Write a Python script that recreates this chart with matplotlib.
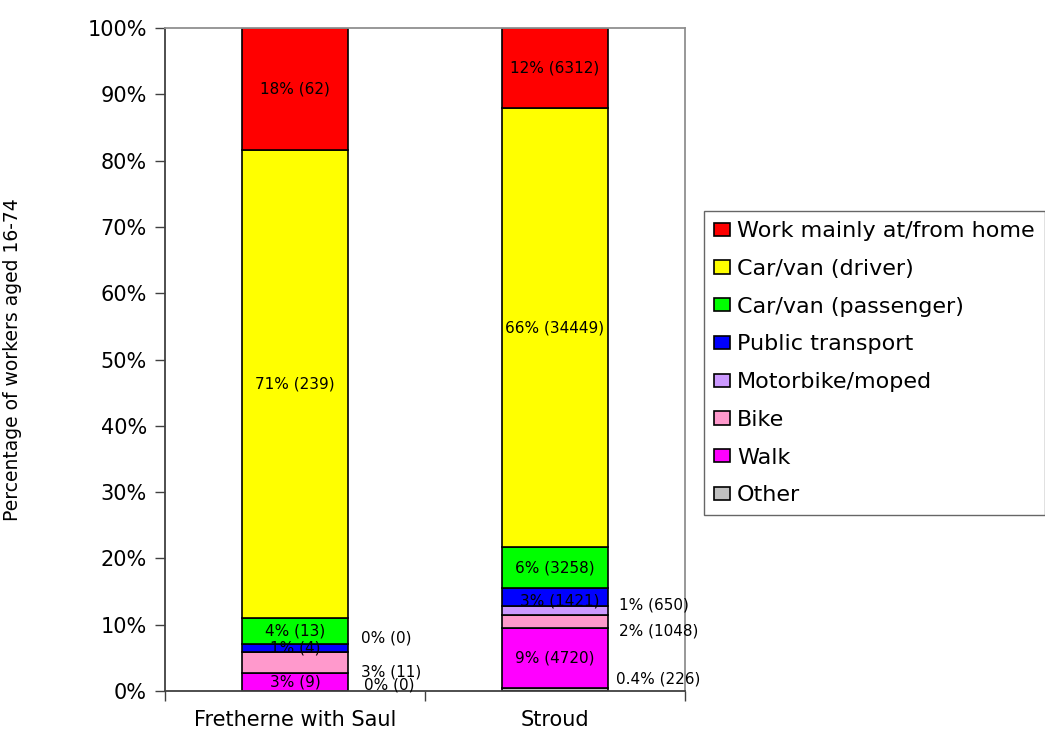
import numpy as np
import matplotlib.pyplot as plt
from matplotlib.patches import Patch

# Travel-to-work mode, stacked from bottom (Other) to top (home working)
areas = ['Fretherne with Saul', 'Stroud']
modes = ['Other', 'Walk', 'Bike', 'Motorbike/moped', 'Public transport',
         'Car/van (passenger)', 'Car/van (driver)', 'Work mainly at/from home']
colours = ['#C0C0C0', '#FF00FF', '#FF99CC', '#CC99FF', '#0000FF',
           '#00FF00', '#FFFF00', '#FF0000']

fretherne_counts = [0, 9, 11, 0, 4, 13, 239, 62]
stroud_counts = [226, 4720, 1048, 650, 1421, 3258, 34449, 6312]

fretherne_text = ['0%', '3%', '3%', '0%', '1%', '4%', '71%', '18%']
stroud_text = ['0.4%', '9%', '2%', '1%', '3%', '6%', '66%', '12%']

# where each data label goes: None = centred in its segment,
# otherwise (x offset from bar centre, y in %)
fretherne_label_pos = [(0.265, 0.9), None, (0.255, 2.9), (0.255, 8.0), None, None, None, None]
stroud_label_pos = [(0.235, 1.8), None, (0.245, 9.0), (0.245, 13.0), (0.02, 13.5), None, None, None]

counts = np.array([fretherne_counts, stroud_counts], dtype=float)
pct = counts / counts.sum(axis=1, keepdims=True) * 100

fig = plt.figure(figsize=(10.45, 7.34), dpi=100)
ax = fig.add_axes([165 / 1045, 1 - 691 / 734, 520 / 1045, 663 / 734])

x = np.arange(len(areas))
width = 0.41
bottom = np.zeros(len(areas))
for i, mode in enumerate(modes):
    ax.bar(x, pct[:, i], width, bottom=bottom, color=colours[i],
           edgecolor='black', linewidth=1.2, label=mode, zorder=2)
    bottom += pct[:, i]

all_text = [fretherne_text, stroud_text]
all_pos = [fretherne_label_pos, stroud_label_pos]
for b in range(len(areas)):
    base = 0.0
    for i in range(len(modes)):
        s = f"{all_text[b][i]} ({int(counts[b, i])})"
        pos = all_pos[b][i]
        if pos is None:
            ax.text(x[b], base + pct[b, i] / 2, s, ha='center', va='center',
                    fontsize=11, zorder=3)
        elif pos[0] < 0.1:
            ax.text(x[b] + pos[0], pos[1], s, ha='center', va='center',
                    fontsize=11, zorder=3)
        else:
            ax.text(x[b] + pos[0], pos[1], s, ha='left', va='center',
                    fontsize=11, zorder=3)
        base += pct[b, i]

ax.set_xlim(-0.5, 1.5)
ax.set_ylim(0, 100)
ax.set_yticks(np.arange(0, 101, 10))
ax.set_yticklabels([f"{v}%" for v in range(0, 101, 10)], fontsize=15)
ax.set_xticks(x)
ax.set_xticklabels(areas, fontsize=15)
ax.set_xticks([-0.5, 0.5, 1.5], minor=True)
ax.tick_params(axis='x', which='major', length=0, pad=14)
ax.tick_params(axis='x', which='minor', length=7, width=1, color='#404040')
ax.tick_params(axis='y', length=7, width=1, color='#404040', pad=6)

for side in ['left', 'bottom']:
    ax.spines[side].set_color('#404040')
    ax.spines[side].set_linewidth(1.3)
for side in ['top', 'right']:
    ax.spines[side].set_color('#909090')
    ax.spines[side].set_linewidth(1.3)

ax.set_ylabel('Percentage of workers aged 16-74', fontsize=13.5)
ax.yaxis.set_label_coords(-0.275, 0.5)

handles = [Patch(facecolor=colours[i], edgecolor='black', linewidth=1.2, label=modes[i])
           for i in range(len(modes) - 1, -1, -1)]
leg = fig.legend(handles=handles, loc='upper left', bbox_to_anchor=(704 / 1045, 1 - 211 / 734),
                 fontsize=16, frameon=True, fancybox=False, handlelength=0.72, handleheight=0.54,
                 handletextpad=0.32, labelspacing=0.80, borderpad=0.45, borderaxespad=0)
leg.get_frame().set_edgecolor('#404040')
leg.get_frame().set_linewidth(1.0)

fig.savefig('out.png', dpi=100)
